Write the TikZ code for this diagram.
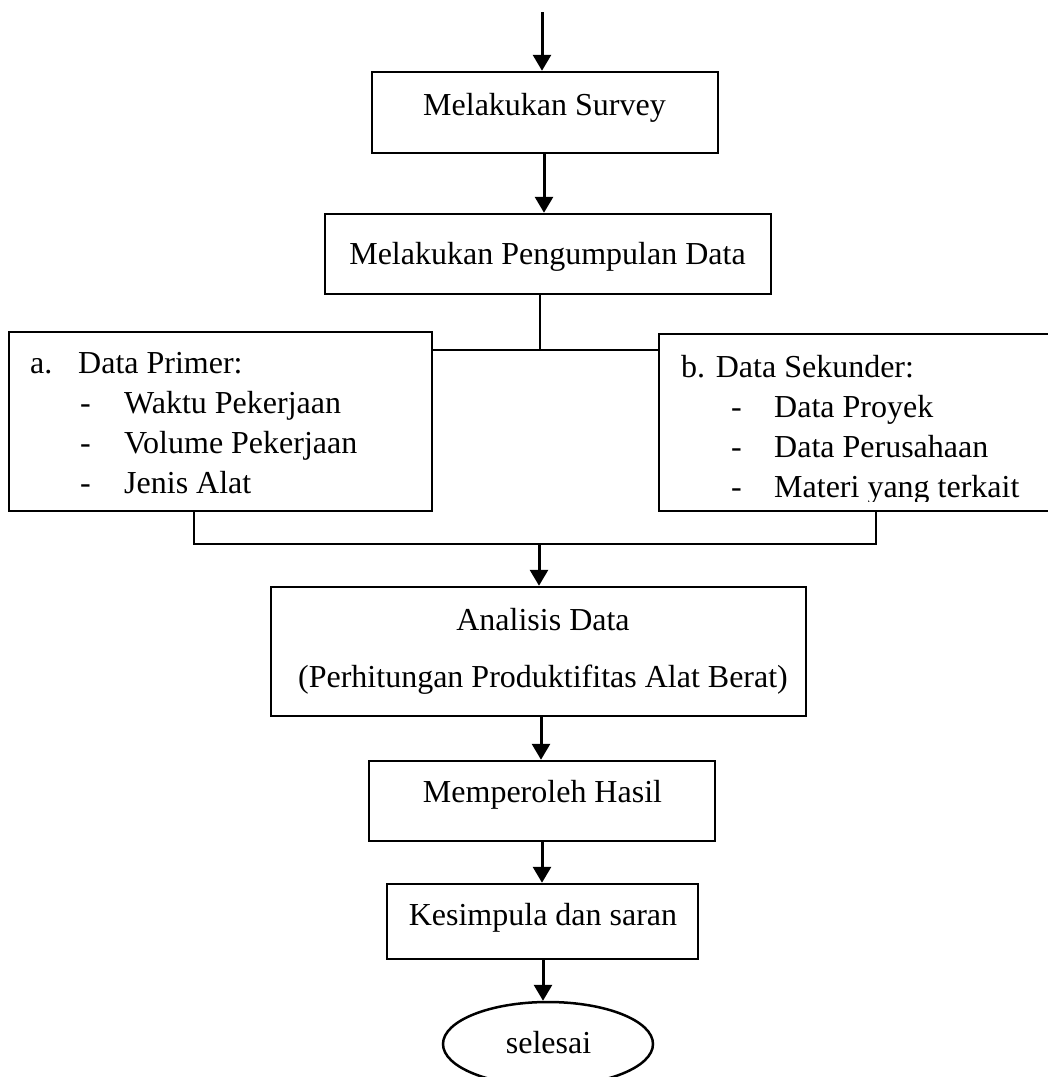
\documentclass[tikz,border=0pt]{standalone}
\usepackage{fontspec}
\setmainfont{Liberation Serif}
\usetikzlibrary{arrows.meta,shapes.geometric,calc}
\begin{document}
\begin{tikzpicture}[x=1pt,y=-1pt,
  box/.style={draw, line width=2.5pt, rectangle, inner sep=0pt},
  oval/.style={draw, line width=2.5pt, ellipse, inner sep=0pt},
  txt/.style={inner sep=0pt, font=\fontsize{32}{38}\selectfont},
  arr/.style={line width=3pt, -{Triangle[length=16pt,width=18pt]}},
  thinline/.style={line width=1.2pt},
  midline/.style={line width=2pt}]
\path[use as bounding box, clip] (0,0) rectangle (1048,1077);

% boxes
\node[box, minimum width=346pt, minimum height=81pt] (survey) at (545,112.5) {};
\node[box, minimum width=446pt, minimum height=80pt] (pengumpulan) at (548,254) {};
\node[box, minimum width=423pt, minimum height=179pt] (primer) at (220.5,421.5) {};
\node[box, minimum width=411pt, minimum height=177pt] (sekunder) at (864.5,422.5) {};
\node[box, minimum width=535pt, minimum height=129pt] (analisis) at (538.5,651.5) {};
\node[box, minimum width=346pt, minimum height=80pt] (memperoleh) at (542,801) {};
\node[box, minimum width=311pt, minimum height=75pt] (kesimpula) at (542.5,921.5) {};
\node[oval, minimum width=210pt, minimum height=84pt] (selesai) at (548,1044) {};

% texts
\node[txt, anchor=base] (surveyt) at (544.5,115) {Melakukan Survey};
\node[txt, anchor=base] (pengumpulant) at (547.5,264) {Melakukan Pengumpulan Data};

\node[txt, anchor=base west] (pa) at (30,373) {a.};
\node[txt, anchor=base west] (pt) at (78,373) {Data Primer:};
\node[txt, anchor=base west] (pd1) at (80,413) {-};
\node[txt, anchor=base west] (pi1) at (124,413) {Waktu Pekerjaan};
\node[txt, anchor=base west] (pd2) at (80,453) {-};
\node[txt, anchor=base west] (pi2) at (124,453) {Volume Pekerjaan};
\node[txt, anchor=base west] (pd3) at (80,493) {-};
\node[txt, anchor=base west] (pi3) at (124,493) {Jenis Alat};

\begin{scope}
\clip (659,334) rectangle (1048,501.5);
\node[txt, anchor=base west] (st) at (681,377) {b. Data Sekunder:};
\node[txt, anchor=base west] (sd1) at (731,417) {-};
\node[txt, anchor=base west] (si1) at (774,417) {Data Proyek};
\node[txt, anchor=base west] (sd2) at (731,457) {-};
\node[txt, anchor=base west] (si2) at (774,457) {Data Perusahaan};
\node[txt, anchor=base west] (sd3) at (731,497) {-};
\node[txt, anchor=base west] (si3) at (774,497) {Materi yang terkait};
\end{scope}

\node[txt, anchor=base] (analisist1) at (543,630) {Analisis Data};
\node[txt, anchor=base] (analisist2) at (543,687) {(Perhitungan Produktifitas Alat Berat)};
\node[txt, anchor=base] (memperoleht) at (542.5,802) {Memperoleh Hasil};
\node[txt, anchor=base] (kesimpulat) at (543,925) {Kesimpula dan saran};
\node[txt, anchor=base] (selesait) at (548.5,1053) {selesai};

% connectors
\coordinate (topstart) at (542,12);
\draw[arr] (topstart) -- (topstart |- survey.north);
\coordinate (a2) at (544,155);
\draw[arr] (survey.south -| a2) -- (pengumpulan.north -| a2);

\coordinate (j1) at (540,350);
\draw[midline] (pengumpulan.south -| j1) -- (j1);
\draw[thinline] (primer.east |- j1) -- (sekunder.west |- j1);

\coordinate (jl) at (194,544);
\coordinate (jr) at (876,544);
\draw[thinline] (primer.south -| jl) -- (jl) -- (jr) -- (sekunder.south -| jr);
\coordinate (j2) at (539,544);
\draw[arr] (j2) -- (analisis.north -| j2);

\coordinate (a4) at (541,716);
\draw[arr] (analisis.south -| a4) -- (memperoleh.north -| a4);
\coordinate (a5) at (542,841);
\draw[arr] (memperoleh.south -| a5) -- (kesimpula.north -| a5);
\coordinate (a6) at (543,959);
\draw[arr] (kesimpula.south -| a6) -- (a6 |- selesai.north);
\end{tikzpicture}
\end{document}
